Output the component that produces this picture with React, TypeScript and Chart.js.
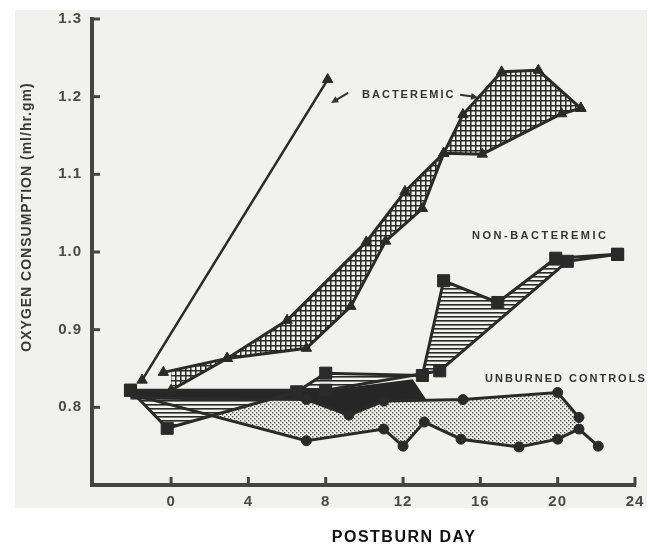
import { useEffect, useRef } from "react";
import { Chart, registerables } from "chart.js";

Chart.register(...registerables);

// ---- axis ticks ----
const xTickValues = [0, 4, 8, 12, 16, 20, 24];
const yTickValues = [0.8, 0.9, 1.0, 1.1, 1.2, 1.3];

// ---- Bacteremic (triangles) ----
const bactSingleDays = [-1.5, 8.1];
const bactSingleValues = [0.835, 1.222];
const bactUpperDays = [-0.4, 2.9, 6.0, 10.1, 12.1, 14.1, 15.1, 17.1, 19.0, 21.2];
const bactUpperValues = [0.845, 0.863, 0.912, 1.013, 1.078, 1.127, 1.177, 1.232, 1.234, 1.185];
const bactLowerDays = [0.0, 2.9, 7.0, 9.3, 11.1, 13.0, 14.1, 16.1, 20.2, 21.2];
const bactLowerValues = [0.822, 0.863, 0.876, 0.93, 1.014, 1.056, 1.127, 1.126, 1.178, 1.185];

// ---- Non-bacteremic (squares) ----
const nonBactADays = [-2.1, -0.2, 6.5, 8.0, 13.0, 14.1, 16.9, 19.9, 23.1];
const nonBactAValues = [0.822, 0.773, 0.82, 0.844, 0.841, 0.963, 0.935, 0.992, 0.997];
const nonBactBDays = [-2.1, 8.0, 13.9, 20.5, 23.1];
const nonBactBValues = [0.822, 0.822, 0.847, 0.988, 0.997];

// ---- dark overlap strip between non-bacteremic and controls ----
const overlapDays = [-2.1, 8.0, 12.5, 13.2];
const overlapValues = [0.823, 0.822, 0.836, 0.81];

// ---- Unburned controls (circles) ----
const controlUpperDays = [-2.1, 7.0, 9.2, 11.0, 15.1, 20.0, 21.1];
const controlUpperValues = [0.812, 0.81, 0.79, 0.808, 0.81, 0.819, 0.787];
const controlLowerDays = [-2.1, 7.0, 11.0, 12.0, 13.1, 15.0, 18.0, 20.0, 21.1, 22.1];
const controlLowerValues = [0.817, 0.757, 0.772, 0.75, 0.781, 0.759, 0.749, 0.759, 0.772, 0.75];

// ---- text ----
const xTitle = "POSTBURN DAY";
const yTitle = "OXYGEN CONSUMPTION (ml/hr.gm)";
const labelBact = "BACTEREMIC";
const labelNonBact = "NON-BACTEREMIC";
const labelControls = "UNBURNED CONTROLS";

const zip = (xs: number[], ys: number[]) => xs.map((x, i) => ({ x, y: ys[i] }));

const INK = "#2a2a2a";
const PAPER = "#f1f1ef";
const FONT = '"Liberation Sans", Arial, sans-serif';

function makePattern(kind: string): CanvasPattern | string {
  const c = document.createElement("canvas");
  const g = c.getContext("2d");
  if (!g) return INK;
  if (kind === "cross") {
    c.width = 5; c.height = 5;
    g.fillStyle = PAPER; g.fillRect(0, 0, 5, 5);
    g.fillStyle = INK; g.fillRect(0, 0, 5, 1.5); g.fillRect(0, 0, 1.5, 5);
  } else if (kind === "hlines") {
    c.width = 4; c.height = 4;
    g.fillStyle = PAPER; g.fillRect(0, 0, 4, 4);
    g.fillStyle = INK; g.fillRect(0, 0, 4, 1.6);
  } else {
    c.width = 4; c.height = 4;
    g.fillStyle = PAPER; g.fillRect(0, 0, 4, 4);
    g.fillStyle = "#505050"; g.fillRect(0, 0, 1.4, 1.4); g.fillRect(2, 2, 1.4, 1.4);
  }
  const p = g.createPattern(c, "repeat");
  return p || INK;
}

const decorPlugin = {
  id: "decor",
  beforeDraw(chart: any) {
    const { ctx, width, height } = chart;
    ctx.save();
    ctx.fillStyle = "#ffffff";
    ctx.fillRect(0, 0, width, height);
    ctx.fillStyle = PAPER;
    ctx.fillRect(15, 10, 632, 498);
    ctx.restore();
    (ctx as any).letterSpacing = "1px";
  },
  afterDraw(chart: any) {
    const { ctx, chartArea } = chart;
    const xs = chart.scales.x;
    const ys = chart.scales.y;
    ctx.save();
    // inward tick marks
    ctx.strokeStyle = "#444";
    ctx.lineWidth = 3;
    yTickValues.forEach((v) => {
      const py = ys.getPixelForValue(v);
      ctx.beginPath();
      ctx.moveTo(chartArea.left, py);
      ctx.lineTo(chartArea.left + 8, py);
      ctx.stroke();
    });
    xTickValues.forEach((v) => {
      const px = xs.getPixelForValue(v);
      ctx.beginPath();
      ctx.moveTo(px, chartArea.bottom);
      ctx.lineTo(px, chartArea.bottom - 8);
      ctx.stroke();
    });

    // axis titles
    (ctx as any).letterSpacing = "1.5px";
    ctx.fillStyle = "#111";
    ctx.font = `bold 16px ${FONT}`;
    ctx.textAlign = "center";
    ctx.textBaseline = "middle";
    ctx.fillText(xTitle, xs.getPixelForValue(12) + 1, 538);

    (ctx as any).letterSpacing = "1px";
    ctx.save();
    ctx.translate(27, 217);
    ctx.rotate(-Math.PI / 2);
    ctx.fillStyle = "#3a3a3a";
    ctx.font = `bold 14px ${FONT}`;
    ctx.fillText(yTitle, 0, 0);
    ctx.restore();

    // series labels
    ctx.fillStyle = "#333";
    ctx.font = `bold 11px ${FONT}`;
    ctx.textAlign = "left";
    (ctx as any).letterSpacing = "2px";
    ctx.fillText(labelBact, xs.getPixelForValue(9.88), ys.getPixelForValue(1.2026));
    (ctx as any).letterSpacing = "2.5px";
    ctx.fillText(labelNonBact, xs.getPixelForValue(15.57), ys.getPixelForValue(1.0205));
    (ctx as any).letterSpacing = "2px";
    ctx.fillText(labelControls, xs.getPixelForValue(16.24), ys.getPixelForValue(0.837));

    // arrows
    const arrow = (d0: number, v0: number, d1: number, v1: number) => {
      const x0 = xs.getPixelForValue(d0), y0 = ys.getPixelForValue(v0);
      const x1 = xs.getPixelForValue(d1), y1 = ys.getPixelForValue(v1);
      const a = Math.atan2(y1 - y0, x1 - x0);
      ctx.strokeStyle = "#333";
      ctx.lineWidth = 2;
      ctx.beginPath();
      ctx.moveTo(x0, y0);
      ctx.lineTo(x1 - 4 * Math.cos(a), y1 - 4 * Math.sin(a));
      ctx.stroke();
      ctx.fillStyle = "#333";
      ctx.beginPath();
      ctx.moveTo(x1, y1);
      ctx.lineTo(x1 - 7 * Math.cos(a) + 3.5 * Math.sin(a), y1 - 7 * Math.sin(a) - 3.5 * Math.cos(a));
      ctx.lineTo(x1 - 7 * Math.cos(a) - 3.5 * Math.sin(a), y1 - 7 * Math.sin(a) + 3.5 * Math.cos(a));
      ctx.closePath();
      ctx.fill();
    };
    arrow(9.16, 1.205, 8.28, 1.192);
    arrow(14.95, 1.2026, 15.88, 1.199);
    ctx.restore();
    (ctx as any).letterSpacing = "0px";
  },
};

export default function App() {
  const ref = useRef<HTMLCanvasElement | null>(null);

  useEffect(() => {
    if (!ref.current) return;
    const cross = makePattern("cross");
    const hlines = makePattern("hlines");
    const dots = makePattern("dots");

    const lineBase = {
      borderColor: INK,
      borderWidth: 3,
      tension: 0,
      pointBackgroundColor: INK,
      pointBorderColor: INK,
      pointBorderWidth: 1,
    };
    const tri = { ...lineBase, pointStyle: "triangle", pointRadius: 6 };
    const sq = { ...lineBase, pointStyle: "rect", pointRadius: 8.5 };
    // the shared pre-burn control point sits hidden under the first square
    const circ = (n: number) => ({
      ...lineBase,
      pointStyle: "circle",
      pointRadius: Array.from({ length: n }, (_, i) => (i === 0 ? 0 : 5)),
    });

    const chart = new Chart(ref.current, {
      type: "line",
      data: {
        datasets: [
          {
            label: "overlap",
            data: zip(overlapDays, overlapValues),
            borderWidth: 0,
            borderColor: "rgba(0,0,0,0)",
            pointRadius: 0,
            fill: { target: 6, above: "#262626", below: "#262626" },
          },
          { label: "Bacteremic (single)", data: zip(bactSingleDays, bactSingleValues), ...tri, borderWidth: 2.5, fill: false },
          { label: "Bacteremic A", data: zip(bactUpperDays, bactUpperValues), ...tri, fill: { target: 3, above: cross, below: cross } },
          { label: "Bacteremic B", data: zip(bactLowerDays, bactLowerValues), ...tri, fill: false },
          { label: "Non-bacteremic A", data: zip(nonBactADays, nonBactAValues), ...sq, fill: { target: 5, above: hlines, below: hlines } },
          { label: "Non-bacteremic B", data: zip(nonBactBDays, nonBactBValues), ...sq, fill: false },
          { label: "Unburned controls A", data: zip(controlUpperDays, controlUpperValues), ...circ(controlUpperDays.length), fill: { target: 7, above: dots, below: dots } },
          { label: "Unburned controls B", data: zip(controlLowerDays, controlLowerValues), ...circ(controlLowerDays.length), fill: false },
        ] as any,
      },
      options: {
        animation: false,
        responsive: false,
        devicePixelRatio: 1,
        layout: { padding: { top: 16, right: 22, left: 0, bottom: 0 } },
        plugins: {
          legend: { display: false },
          tooltip: { enabled: false },
          filler: { drawTime: "beforeDatasetsDraw" },
        } as any,
        scales: {
          x: {
            type: "linear",
            min: -4.09,
            max: 24,
            afterBuildTicks: (s: any) => {
              s.ticks = xTickValues.map((v) => ({ value: v }));
            },
            afterFit: (s: any) => {
              s.height = 60;
            },
            ticks: {
              padding: 8,
              color: "#4a4a4a",
              font: { family: FONT, size: 15, weight: "bold" },
              callback: (v: any) => String(v),
            },
            grid: { display: false, drawTicks: false },
            border: { display: true, width: 4, color: "#444" },
          },
          y: {
            type: "linear",
            min: 0.7,
            max: 1.3,
            afterBuildTicks: (s: any) => {
              s.ticks = yTickValues.map((v) => ({ value: v }));
            },
            afterFit: (s: any) => {
              s.width = 92;
            },
            ticks: {
              padding: 10,
              color: "#4a4a4a",
              font: { family: FONT, size: 15, weight: "bold" },
              callback: (v: any) => Number(v).toFixed(1),
            },
            grid: { display: false, drawTicks: false },
            border: { display: true, width: 4, color: "#444" },
          },
        },
      } as any,
      plugins: [decorPlugin as any],
    });
    return () => chart.destroy();
  }, []);

  return (
    <div style={{ position: "absolute", left: 0, top: 0, width: 657, height: 545 }}>
      <canvas ref={ref} width={657} height={545} style={{ display: "block" }} />
    </div>
  );
}
